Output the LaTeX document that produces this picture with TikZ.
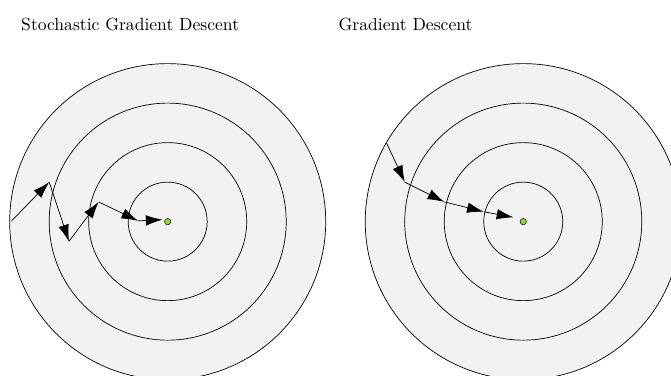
\documentclass[tikz,border=0pt]{standalone}
\usetikzlibrary{arrows.meta,calc}
\definecolor{optgreen}{RGB}{128,232,0}

\begin{document}
\begin{tikzpicture}[x=0.79cm,y=0.79cm,
  ring/.style={draw,fill=gray!10},
  move/.style={-{Latex[length=9.5pt,width=6pt]}}]
\clip (-4.245,-3.906) rectangle (12.74,5.61);
\coordinate (L) at (0,0); \coordinate (R) at (9,0);
\foreach \r in {4,3,2,1} {
  \draw[ring] (L) circle (\r);
  \draw[ring] (R) circle (\r);
}
\filldraw[fill=optgreen,draw=black!80] (L) circle (0.08);
\filldraw[fill=optgreen,draw=black!80] (R) circle (0.08);
\node (sgd) at (-0.95,4.98) {Stochastic Gradient Descent};
\node (gd) at (6.02,4.98) {Gradient Descent};
% stochastic steps
\coordinate (s0) at (-3.95,0.02); \coordinate (s1) at (-3,1);
\coordinate (s2) at (-2.5,-0.5); \coordinate (s3) at (-1.75,0.5);
\coordinate (s4) at (-0.75,0.02); \coordinate (s5) at (-0.13,0.05);
\draw[move] (s0)--(s1); \draw[move] (s1)--(s2); \draw[move] (s2)--(s3);
\draw[move] (s3)--(s4); \draw[move] (s4)--(s5);
% full gradient steps
\coordinate (g0) at ($(R)+(150:4)$); \coordinate (g1) at (6,1);
\coordinate (g2) at (7,0.5); \coordinate (g3) at (8,0.25);
\coordinate (g4) at (8.75,0.11);
\draw[move] (g0)--(g1); \draw[move] (g1)--(g2);
\draw[move] (g2)--(g3); \draw[move] (g3)--(g4);
\end{tikzpicture}
\end{document}
